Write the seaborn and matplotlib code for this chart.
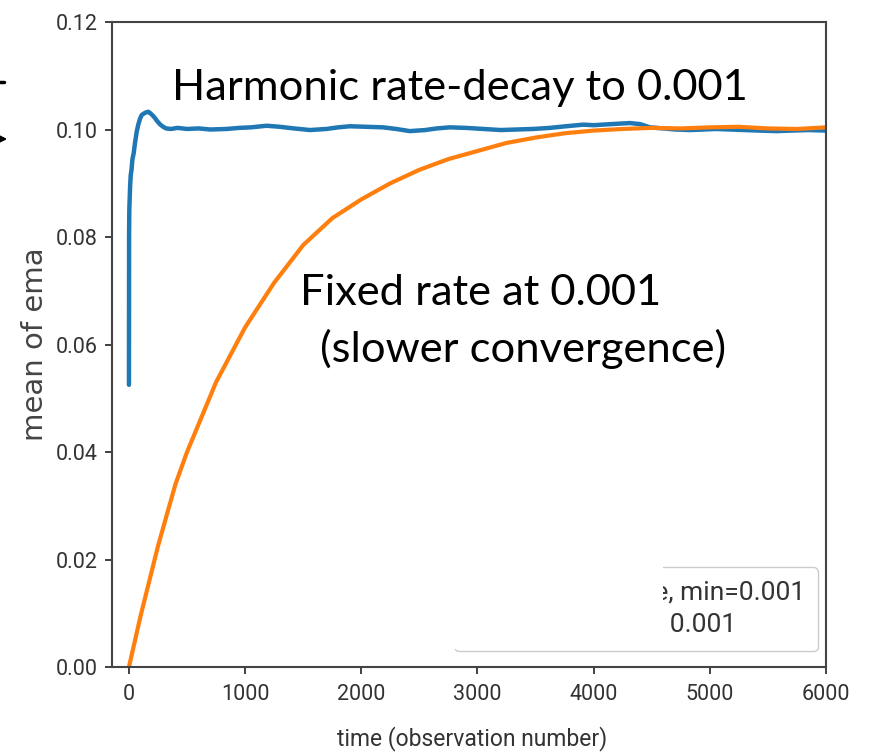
import matplotlib
matplotlib.use("Agg")
import matplotlib.pyplot as plt
from matplotlib.patches import Rectangle
import seaborn as sns
import pandas as pd

# harmonic rate-decay series
t_harmonic = [0, 1, 3, 6, 10, 15, 22, 30, 40, 52, 66, 80, 95, 110, 130, 150, 166, 185,
              205, 225, 245, 270, 295, 320, 360, 420, 500, 600, 700, 840, 950, 1050, 1185,
              1300, 1420, 1558, 1700, 1800, 1902, 2050, 2189, 2300, 2418, 2550, 2650, 2762,
              2900, 3050, 3200, 3337, 3480, 3623, 3760, 3910, 4000, 4150, 4311, 4400, 4484,
              4600, 4700, 4828, 4950, 5050, 5172, 5300, 5420, 5574, 5700, 5850, 6000]
v_harmonic = [0.0525, 0.0800, 0.0850, 0.0870, 0.0895, 0.0915, 0.0925, 0.0945, 0.0955,
              0.0975, 0.0995, 0.1009, 0.1020, 0.1027, 0.1030, 0.1032, 0.1033, 0.1030,
              0.1026, 0.1021, 0.1015, 0.1009, 0.1005, 0.1002, 0.1001, 0.1003, 0.1001,
              0.1002, 0.1000, 0.1001, 0.1003, 0.1004, 0.1007, 0.1005, 0.1002, 0.0999,
              0.1001, 0.1004, 0.1006, 0.1005, 0.1004, 0.1001, 0.0997, 0.0999, 0.1002,
              0.1004, 0.1003, 0.1001, 0.0999, 0.1000, 0.1001, 0.1003, 0.1006, 0.1009,
              0.1008, 0.1010, 0.1012, 0.1010, 0.1004, 0.1002, 0.1000, 0.0999, 0.1000,
              0.1001, 0.1000, 0.0999, 0.0998, 0.0997, 0.0998, 0.0999, 0.0998]

# fixed-rate series
t_fixed = [0, 100, 250, 400, 500, 750, 1000, 1250, 1500, 1750, 2000, 2250, 2500, 2750,
           3000, 3250, 3500, 3750, 4000, 4250, 4500, 4750, 5000, 5250, 5500, 5750, 6000]
v_fixed = [0.0, 0.0095, 0.0225, 0.0340, 0.0400, 0.0530, 0.0632, 0.0715, 0.0785, 0.0835,
           0.0870, 0.0900, 0.0925, 0.0945, 0.0960, 0.0975, 0.0985, 0.0993, 0.0998,
           0.1001, 0.1003, 0.1002, 0.1004, 0.1005, 0.1002, 0.1001, 0.1004]

labels = ["harmonic rate, min=0.001", "fixed rate, set 0.001"]
x_ticks = [0, 1000, 2000, 3000, 4000, 5000, 6000]
y_ticks = [0.00, 0.02, 0.04, 0.06, 0.08, 0.10, 0.12]

sns.set_style("ticks")
narrow = ["Roboto", "DejaVu Sans"]
callout = ["Lato", "DejaVu Sans"]

df_h = pd.DataFrame({"t": t_harmonic, "v": v_harmonic})
df_f = pd.DataFrame({"t": t_fixed, "v": v_fixed})

fig = plt.figure(figsize=(8.76, 7.56), dpi=100)
ax = fig.add_axes([112 / 876, 1 - 667 / 756, 714 / 876, 645 / 756])

sns.lineplot(data=df_h, x="t", y="v", ax=ax, color="#1f77b4", lw=3.2, label=labels[0])
sns.lineplot(data=df_f, x="t", y="v", ax=ax, color="#ff7f0e", lw=3.0, label=labels[1])

ax.set_xlim(-146, 6000)
ax.set_ylim(0, 0.12)
ax.set_xticks(x_ticks)
ax.set_yticks(y_ticks)
ax.set_xticklabels([str(t) for t in x_ticks], family=narrow, fontsize=15.5, color="#333333")
ax.set_yticklabels([f"{v:.2f}" for v in y_ticks], family=narrow, fontsize=15.5, color="#333333")
ax.tick_params(length=5, width=1.3, color="#333333")
ax.tick_params(axis="x", pad=7)
ax.tick_params(axis="y", pad=5)
for s in ax.spines.values():
    s.set_visible(True)
    s.set_color("#444444")
    s.set_linewidth(1.5)

ax.set_xlabel("time (observation number)", family=narrow, fontsize=16.5, color="#333333")
ax.set_ylabel("mean of ema", family=["DejaVu Sans"], fontsize=21, color="#444444")
ax.xaxis.set_label_coords(0.504, -0.092)
ax.yaxis.set_label_coords(-0.088, 0.5)

leg = ax.legend(loc="lower right", bbox_to_anchor=(0.9888, 0.0248), borderaxespad=0,
                prop={"family": narrow, "size": 19}, frameon=True, framealpha=1,
                edgecolor="#cccccc", fancybox=True, handlelength=0.8, handletextpad=0.6,
                borderpad=0.5, labelspacing=0.35)
for txt in leg.get_texts():
    txt.set_color("#333333")

# white box pasted over the left part of the legend
fig.patches.append(Rectangle((440, 756 - 649), 663 - 440, 130, transform=None,
                             facecolor="white", edgecolor="none", zorder=10))

# callouts
fig.text(172 / 876, 1 - 100 / 756, "Harmonic rate-decay to 0.001", family=callout,
         fontsize=31.3, color="black", va="baseline", ha="left")
fig.text(300 / 876, 1 - 305 / 756, "Fixed rate at 0.001", family=callout,
         fontsize=31.3, color="black", va="baseline", ha="left")
fig.text(320 / 876, 1 - 362 / 756, "(slower convergence)", family=callout,
         fontsize=31.3, color="black", va="baseline", ha="left")

# arrow cut off at the left edge
ax.annotate("", xy=(10, 756 - 139), xytext=(-20, 756 - 139), xycoords="figure pixels",
            textcoords="figure pixels", annotation_clip=False,
            arrowprops=dict(arrowstyle="-|>", color="black", lw=1.5, mutation_scale=22))
fig.add_artist(plt.Line2D([0, 4], [756 - 82, 756 - 82], transform=None, color="black", lw=2.5))

fig.savefig("out.png", dpi=100)
